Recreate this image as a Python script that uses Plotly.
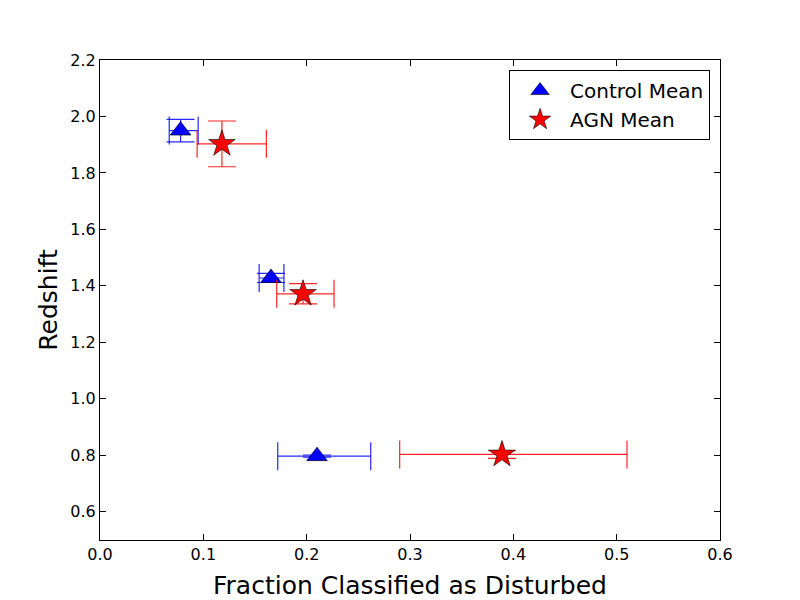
import plotly.graph_objects as go

# Control sample means
control_frac = [0.078, 0.1655, 0.210]
control_frac_lo = [0.011, 0.0115, 0.038]
control_frac_hi = [0.017, 0.0125, 0.052]
control_z = [1.950, 1.428, 0.797]
control_z_err = [0.040, 0.016, 0.004]

# AGN sample means
agn_frac = [0.118, 0.1965, 0.389]
agn_frac_lo = [0.024, 0.0255, 0.099]
agn_frac_hi = [0.043, 0.030, 0.121]
agn_z = [1.903, 1.372, 0.803]
agn_z_err = [0.081, 0.036, 0.014]

fig = go.Figure()

fig.add_trace(go.Scatter(
    x=control_frac, y=control_z, mode="markers", name="Control Mean",
    marker=dict(symbol="triangle-up", size=18, color="blue",
                line=dict(color="black", width=0.6)),
    error_x=dict(type="data", array=control_frac_hi, arrayminus=control_frac_lo,
                 symmetric=False, color="rgba(0,0,255,0.85)", thickness=1.2, width=14),
    error_y=dict(type="data", array=control_z_err, color="rgba(0,0,255,0.85)",
                 thickness=1.2, width=14),
))

fig.add_trace(go.Scatter(
    x=agn_frac, y=agn_z, mode="markers", name="AGN Mean",
    marker=dict(symbol="star", size=20, color="red",
                line=dict(color="black", width=0.6)),
    error_x=dict(type="data", array=agn_frac_hi, arrayminus=agn_frac_lo,
                 symmetric=False, color="rgba(255,0,0,0.85)", thickness=1.2, width=14),
    error_y=dict(type="data", array=agn_z_err, color="rgba(255,0,0,0.85)",
                 thickness=1.2, width=14),
))

axis_style = dict(
    showgrid=False, zeroline=False, showline=True, linecolor="black",
    linewidth=1, mirror="ticks", ticks="inside", ticklen=6, tickcolor="black",
    tickfont=dict(family="DejaVu Sans", size=16, color="black"),
)

fig.update_xaxes(range=[0, 0.6], dtick=0.1, tickformat=".1f", automargin=False,
                 title=dict(text="Fraction Classified as Disturbed",
                            font=dict(family="DejaVu Sans", size=25, color="black")),
                 **axis_style)
fig.update_yaxes(range=[0.5, 2.2], tick0=0.6, dtick=0.2, tickformat=".1f",
                 automargin=True,
                 title=dict(text="Redshift", standoff=5,
                            font=dict(family="DejaVu Sans", size=25, color="black")),
                 **axis_style)

fig.update_layout(
    width=792, height=592,
    margin=dict(l=92, r=80, t=52, b=60),
    paper_bgcolor="white", plot_bgcolor="white",
    font=dict(family="DejaVu Sans", color="black"),
    legend=dict(x=0.984, y=0.979, xanchor="right", yanchor="top",
                bordercolor="black", borderwidth=1, bgcolor="white",
                itemwidth=50,
                font=dict(family="DejaVu Sans", size=20)),
)

fig.write_html("out.html")
